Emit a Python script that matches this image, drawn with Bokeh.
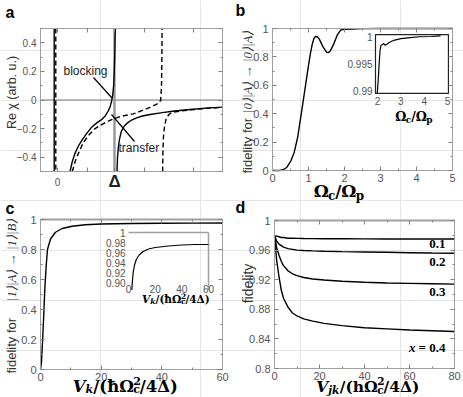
import math
from bokeh.plotting import figure
from bokeh.models import Range1d, LinearAxis, FixedTicker, Label
from bokeh.embed import file_html
from bokeh.resources import INLINE

# ======================= DATA =======================
# (a) Re chi versus detuning (x in units of Delta)
a_delta = 1.0
a_sol0_x = [-0.058, -0.058]
a_sol0_y = [0.5, -0.5]
a_dash0_x = [-0.03, -0.03]
a_dash0_y = [0.5, -0.5]
a_sol1_x = [0.22, 0.26, 0.31, 0.37, 0.43, 0.51, 0.60, 0.69, 0.78, 0.84, 0.89, 0.925, 0.95, 0.97, 0.985, 0.996, 1.003, 1.009, 1.013]
a_sol1_y = [-0.5, -0.43, -0.37, -0.32, -0.28, -0.235, -0.19, -0.16, -0.135, -0.11, -0.077, -0.045, -0.007, 0.04, 0.10, 0.2, 0.29, 0.4, 0.5]
a_sol2_x = [1.044, 1.053, 1.07, 1.09, 1.12, 1.175, 1.23, 1.30, 1.40, 1.49, 1.65, 1.81, 2.05, 2.33, 2.6, 2.895]
a_sol2_y = [-0.5, -0.4, -0.32, -0.27, -0.22, -0.18, -0.16, -0.14, -0.123, -0.112, -0.10, -0.09, -0.077, -0.066, -0.057, -0.05]
a_dash1_x = [0.26, 0.31, 0.37, 0.45, 0.54, 0.66, 0.78, 0.92, 1.07, 1.19, 1.33, 1.49, 1.62, 1.75, 1.81, 1.825, 1.832, 1.835]
a_dash1_y = [-0.5, -0.43, -0.37, -0.30, -0.25, -0.20, -0.17, -0.143, -0.12, -0.108, -0.097, -0.073, -0.052, -0.027, -0.003, 0.1, 0.3, 0.5]
a_dash2_x = [1.845, 1.85, 1.86, 1.88, 1.91, 1.96, 2.01, 2.16, 2.33, 2.6, 2.895]
a_dash2_y = [-0.5, -0.35, -0.25, -0.18, -0.125, -0.1, -0.086, -0.077, -0.069, -0.059, -0.052]
a_yticks = [-0.4, -0.2, 0, 0.2, 0.4]
a_ytick_labels = ["\u22120.4", "\u22120.2", "0", "0.2", "0.4"]
a_yminor = [-0.5, -0.3, -0.1, 0.1, 0.3, 0.5]
a_xticks = [0, 0.53, 1.0, 1.52, 2.39]
a_xtick_labels = ["0", "\u0394"]
a_texts = ["blocking", "transfer"]

# (b) fidelity vs Omega_c/Omega_p
b_x = [0, 0.2, 0.3, 0.4, 0.5, 0.6, 0.7, 0.8, 0.9, 1.0, 1.05, 1.1, 1.15, 1.2, 1.25, 1.3, 1.4, 1.5, 1.55, 1.6, 1.7, 1.8, 1.9, 2.0, 2.2, 2.5, 3.0, 5.0]
b_y = [0, 0.0, 0.005, 0.023, 0.062, 0.125, 0.235, 0.40, 0.57, 0.74, 0.82, 0.885, 0.93, 0.945, 0.94, 0.925, 0.872, 0.833, 0.83, 0.84, 0.89, 0.955, 0.99, 0.995, 0.997, 0.999, 1.0, 1.0]
b_xticks = [0, 1, 2, 3, 4, 5]
b_yticks = [0, 0.2, 0.4, 0.6, 0.8, 1]
b_ytick_labels = ["0", "0.2", "0.4", "0.6", "0.8", "1"]
bi_x = [1.99, 2.03, 2.07, 2.11, 2.15, 2.2, 2.27, 2.33, 2.4, 2.5, 2.7, 3.0, 3.4, 3.8, 4.3, 4.7]
bi_y = [0.9896, 0.992, 0.995, 0.9975, 0.9984, 0.9985, 0.9987, 0.9984, 0.9986, 0.9989, 0.9993, 0.9996, 0.9998, 0.99995, 1.0, 1.0001]
bi_xticks = [2, 3, 4, 5]
bi_yticks = [0.99, 0.995, 1.0]
bi_ytick_labels = ["0.99", "0.995", "1"]

# (c) fidelity vs V_k
c_x = [0, 0.33, 0.77, 1.1, 1.43, 1.87, 2.3, 3.3, 4.95, 7.15, 10.4, 14.8, 20, 30, 40, 50, 60]
c_y = [0, 0.05, 0.227, 0.38, 0.54, 0.69, 0.80, 0.87, 0.915, 0.94, 0.955, 0.965, 0.97, 0.973, 0.975, 0.976, 0.977]
c_xticks = [0, 20, 40, 60]
c_yticks = [0, 0.2, 0.4, 0.6, 0.8, 1]
c_ytick_labels = ["0", "0.2", "0.4", "0.6", "0.8", "1"]
ci_x = [2.5, 3, 3.5, 4.5, 6, 8, 11, 15, 20, 30, 40, 50, 60]
ci_y = [0.885, 0.905, 0.92, 0.935, 0.947, 0.955, 0.962, 0.967, 0.970, 0.973, 0.975, 0.976, 0.976]
ci_xticks = [0, 20, 40, 60]
ci_yticks = [0.90, 0.92, 0.94, 0.96, 0.98, 1.0]
ci_ytick_labels = ["0.90", "0.92", "0.94", "0.96", "0.98", "1"]

# (d) fidelity vs V_jk for several x
d_x = [0, 0.5, 1, 2, 3, 4, 6, 8, 10, 13, 17, 22, 30, 40, 50, 60, 70, 80]
d_y01 = [0.98, 0.979, 0.979, 0.978, 0.977, 0.977, 0.976, 0.976, 0.9758, 0.9756, 0.9755, 0.9754, 0.9753, 0.9752, 0.9751, 0.975, 0.975, 0.975]
d_y02 = [0.98, 0.976, 0.972, 0.968, 0.966, 0.964, 0.962, 0.961, 0.960, 0.9595, 0.959, 0.9585, 0.958, 0.9575, 0.957, 0.9565, 0.956, 0.9557]
d_y03 = [0.98, 0.971, 0.963, 0.953, 0.945, 0.939, 0.932, 0.928, 0.9255, 0.923, 0.921, 0.9195, 0.918, 0.9165, 0.9155, 0.915, 0.9145, 0.914]
d_y04 = [0.98, 0.962, 0.945, 0.924, 0.906, 0.895, 0.883, 0.875, 0.871, 0.867, 0.864, 0.861, 0.858, 0.855, 0.8535, 0.852, 0.851, 0.85]
d_xticks = [0, 20, 40, 60, 80]
d_yticks = [0.8, 0.84, 0.88, 0.92, 0.96, 1.0]
d_ytick_labels = ["0.8", "0.84", "0.88", "0.92", "0.96", "1"]
d_curve_labels = ["0.1", "0.2", "0.3", "= 0.4"]
d_curve_label_y = [0.9682, 0.9439, 0.904, 0.8284]

# ======================= STYLE / LAYOUT =======================
SANS = "Liberation Sans"
SERIF = "Liberation Serif"
MATH = "DejaVu Serif"
TICK_C = "#555555"
FRAME_C = "#a0a0a0"
TMARK_C = "#808080"
LW = 1.4

# single canvas; default ranges are page pixels (y downward)
X0, X1, Y0, Y1 = 0, 463, 0, 397
p = figure(width=X1 - X0, height=Y1 - Y0, x_range=Range1d(X0, X1), y_range=Range1d(Y1, Y0),
           x_axis_location=None, y_axis_location=None, output_backend="svg",
           toolbar_location=None, min_border=0)
p.outline_line_color = None
p.background_fill_color = "white"
p.border_fill_color = "white"


def lin_range(a, pa, b, pb, ps, pe):
    k = (b - a) / (pb - pa)
    return Range1d(a + (ps - pa) * k, a + (pe - pa) * k)


# panel frames (page px) and data ranges
PAN = {
    "a": dict(fx=(40, 222), fy=(28, 171), xr=(-0.298, 2.895), yr=(-0.5, 0.5)),
    "b": dict(fx=(272, 452), fy=(28, 170), xr=(0, 5), yr=(0, 1)),
    "c": dict(fx=(40, 222), fy=(219, 369), xr=(0, 60), yr=(0, 1)),
    "d": dict(fx=(274, 454), fy=(220, 368), xr=(0, 80), yr=(0.8, 1)),
}
xr_ex, yr_ex = {}, {}
for k, s in PAN.items():
    xr_ex[k + "x"] = lin_range(s["xr"][0], s["fx"][0], s["xr"][1], s["fx"][1], X0, X1)
    yr_ex[k + "y"] = lin_range(s["yr"][0], s["fy"][1], s["yr"][1], s["fy"][0], Y1, Y0)
# insets: (value, page) anchor pairs
xr_ex["bix"] = lin_range(2, 377, 5, 447, X0, X1)
yr_ex["biy"] = lin_range(0.99, 90.7, 1.0, 36, Y1, Y0)
xr_ex["cix"] = lin_range(0, 128, 60, 208, X0, X1)
yr_ex["ciy"] = lin_range(0.90, 282, 1.0, 232, Y1, Y0)
p.extra_x_ranges = xr_ex
p.extra_y_ranges = yr_ex


def mk_axis(xn, yn, ticks, minor, labels, size, standoff, loc, bounds, side, lw=1):
    ax = LinearAxis(x_range_name=xn, y_range_name=yn, fixed_location=loc, bounds=bounds,
                    ticker=FixedTicker(ticks=ticks, minor_ticks=minor))
    ax.axis_line_color = FRAME_C
    ax.axis_line_width = lw
    ax.major_tick_in = 4
    ax.major_tick_out = 0
    ax.minor_tick_in = 2
    ax.minor_tick_out = 0
    ax.major_tick_line_color = TMARK_C
    ax.minor_tick_line_color = TMARK_C
    if labels is None:
        ax.major_label_overrides = {t: "" for t in ticks}
        ax.major_label_text_color = None
    else:
        ax.major_label_overrides = {t: l for t, l in zip(ticks, labels)}
        ax.major_label_text_font = SANS
        ax.major_label_text_font_size = size
        ax.major_label_text_color = TICK_C
        ax.major_label_standoff = standoff
    p.add_layout(ax, side)


def panel_axes(k, xt, xm, xl, yt, ym, yl, size="11px", xs=3, ys=4, top_lw=1):
    s = PAN[k]
    xn, yn = k + "x", k + "y"
    mk_axis(xn, yn, xt, xm, xl, size, xs, s["yr"][0], s["xr"], "below")
    mk_axis(xn, yn, xt, xm, None, size, 0, s["yr"][1], s["xr"], "above", lw=top_lw)
    mk_axis(xn, yn, yt, ym, yl, size, ys, s["xr"][0], s["yr"], "left")
    mk_axis(xn, yn, yt, ym, None, size, 0, s["xr"][1], s["yr"], "right")


def lab(x, y, text, size, font=SANS, style="normal", color="black", align="left",
        baseline="middle", angle=0.0, xn="default", yn="default"):
    p.add_layout(Label(x=x, y=y, x_range_name=xn, y_range_name=yn, text=text, text_font=font,
                       text_font_size=f"{size}px", text_font_style=style, text_color=color,
                       text_align=align, text_baseline=baseline, angle=angle))


WD = {"\u03a9": 0.84, "\u0394": 0.80, "V": 0.77, "k": 0.72, "j": 0.375, "c": 0.593, "p": 0.716,
      "/": 0.365, "(": 0.473, ")": 0.473, "\u0127": 0.741, "h": 0.741, "2": 0.696, "4": 0.696}


def tw(text, size):
    return sum(WD.get(ch, 0.6) for ch in text) * size


def seq(parts, cx, mid, font=MATH, color="black"):
    # parts: (text, size, dy, style, advance); runs placed one after another, centred on cx
    total = sum(tw(t, sz) for t, sz, dy, st, adv in parts if adv)
    x = cx - total / 2.0
    for t, sz, dy, st, adv in parts:
        lab(x, mid + dy, t, sz, font=font, style=st, color=color)
        if adv:
            x += tw(t, sz)


def omega_label(S, s2):
    return [("\u03a9", S, 0, "bold", True), ("c", s2, S * 0.3, "bold", True),
            ("/\u03a9", S, 0, "bold", True), ("p", s2, S * 0.3, "bold", True)]


def v_label(S, s2, sub, hchar, sub_dy=0.28):
    return [("V", S, 0, "bold italic", True), (sub, s2, S * sub_dy, "bold italic", True),
            ("/(" + hchar + "\u03a9", S, 0, "bold", True),
            ("2", s2, -S * 0.33, "bold", False), ("c", s2, S * sub_dy, "bold", True),
            ("/4\u0394)", S, 0, "bold", True)]


# ======================= PANEL A =======================
sa = PAN["a"]
panel_axes("a", a_xticks, [], None, a_yticks, a_yminor, a_ytick_labels, size="10px", ys=4)
p.segment(x0=[sa["xr"][0]], y0=[0], x1=[sa["xr"][1]], y1=[0], x_range_name="ax", y_range_name="ay",
          line_color="#555555", line_width=0.8)
p.segment(x0=[a_delta], y0=[sa["yr"][0]], x1=[a_delta], y1=[sa["yr"][1]], x_range_name="ax",
          y_range_name="ay", line_color="#9a9a9a", line_width=2.5)
for xs, ys in [(a_sol0_x, a_sol0_y), (a_sol1_x, a_sol1_y), (a_sol2_x, a_sol2_y)]:
    p.line(xs, ys, x_range_name="ax", y_range_name="ay", line_color="black", line_width=LW)
for xs, ys in [(a_dash0_x, a_dash0_y), (a_dash1_x, a_dash1_y), (a_dash2_x, a_dash2_y)]:
    p.line(xs, ys, x_range_name="ax", y_range_name="ay", line_color="black", line_width=LW,
           line_dash="5 3")
# pointer lines for the two labels
p.segment(x0=[93, 134], y0=[77, 141], x1=[111.5, 111], y1=[97.5, 114], line_color="black", line_width=1.2)
lab(63, 70, a_texts[0], 12, color="#222222")
lab(118, 147.5, a_texts[1], 12, color="#222222")
lab(0, 181, a_xtick_labels[0], 10, color=TICK_C, align="center", xn="ax")
lab(a_delta, 180.5, a_xtick_labels[1], 17, style="bold", color="#222222", align="center", xn="ax")
lab(11, 92, "Re \u03c7 (arb. u.)", 12.5, color="#333333", align="center", angle=math.pi / 2)
lab(5, 12, "a", 16, style="bold")

# ======================= PANEL B =======================
panel_axes("b", b_xticks, [0.5, 1.5, 2.5, 3.5, 4.5], [str(t) for t in b_xticks],
           b_yticks, [0.1, 0.3, 0.5, 0.7, 0.9], b_ytick_labels)
p.line(b_x, b_y, x_range_name="bx", y_range_name="by", line_color="black", line_width=LW)
p.quad(left=[1.914], right=[5.04], bottom=[0.9896], top=[1.00035], x_range_name="bix",
       y_range_name="biy", fill_color="white", line_color="#222222", line_width=1.2)
p.line(bi_x, bi_y, x_range_name="bix", y_range_name="biy", line_color="black", line_width=1.2)
for v, t in zip(bi_yticks, bi_ytick_labels):
    lab(372, v, t, 10, color=TICK_C, align="right", yn="biy")
for v in bi_xticks:
    lab(v, 100, str(v), 10, color=TICK_C, align="center", xn="bix")
seq(omega_label(12.5, 9), 413.5, 115.5)
seq(omega_label(17, 12), 338.5, 190.5)
lab(247, 173, "fidelity for", 13, color="#333333", angle=math.pi / 2)
lab(247, 30, "|0\u27e9|A\u27e9 \u2192 |0\u27e9|A\u27e9", 13, font=SERIF, style="italic",
    color="#333333", align="right", angle=math.pi / 2)
lab(235, 9.5, "b", 16, style="bold")

# ======================= PANEL C =======================
panel_axes("c", c_xticks, [10, 30, 50], [str(t) for t in c_xticks],
           c_yticks, [0.1, 0.3, 0.5, 0.7, 0.9], c_ytick_labels, top_lw=2)
p.line(c_x, c_y, x_range_name="cx", y_range_name="cy", line_color="black", line_width=LW)
p.segment(x0=[0, 60], y0=[1.0, 1.0], x1=[60, 60], y1=[1.0, 0.885], x_range_name="cix",
          y_range_name="ciy", line_color="#a0a0a0", line_width=1.5)
p.line(ci_x, ci_y, x_range_name="cix", y_range_name="ciy", line_color="black", line_width=1.2)
for v, t in zip(ci_yticks, ci_ytick_labels):
    lab(125, v, t, 10, color=TICK_C, align="right", yn="ciy")
for v in ci_xticks:
    lab(v, 288, str(v), 10, color=TICK_C, align="center", xn="cix")
seq(v_label(10.5, 7.5, "k", "\u0127"), 175.5, 298.5)
seq(v_label(16.5, 11, "k", "\u0127", sub_dy=0.2), 125, 386)
lab(11, 373, "fidelity for", 13, color="#333333", angle=math.pi / 2)
lab(11, 218, "|1\u27e9|A\u27e9 \u2192 |1\u27e9|B\u27e9", 13, font=SERIF, style="italic",
    color="#333333", align="right", angle=math.pi / 2)
lab(5, 207.5, "c", 16, style="bold")

# ======================= PANEL D =======================
panel_axes("d", d_xticks, [10, 30, 50, 70], [str(t) for t in d_xticks],
           d_yticks, [0.82, 0.86, 0.90, 0.94, 0.98], d_ytick_labels, top_lw=2)
for ys in [d_y01, d_y02, d_y03, d_y04]:
    p.line(d_x, ys, x_range_name="dx", y_range_name="dy", line_color="black", line_width=LW)
for t, yv in zip(d_curve_labels, d_curve_label_y):
    lab(445, yv, t, 13, font=SERIF, style="bold", align="right", yn="dy")
lab(415, d_curve_label_y[3], "x", 13, font=SERIF, style="bold italic", align="right", yn="dy")
seq(v_label(15.5, 10.5, "jk", "h", sub_dy=0.2), 367.5, 386)
lab(247, 283, "fidelity", 14, color="#333333", align="center", angle=math.pi / 2)
lab(235, 206.5, "d", 16, style="bold")

open("out.html", "w").write(file_html(p, INLINE))
